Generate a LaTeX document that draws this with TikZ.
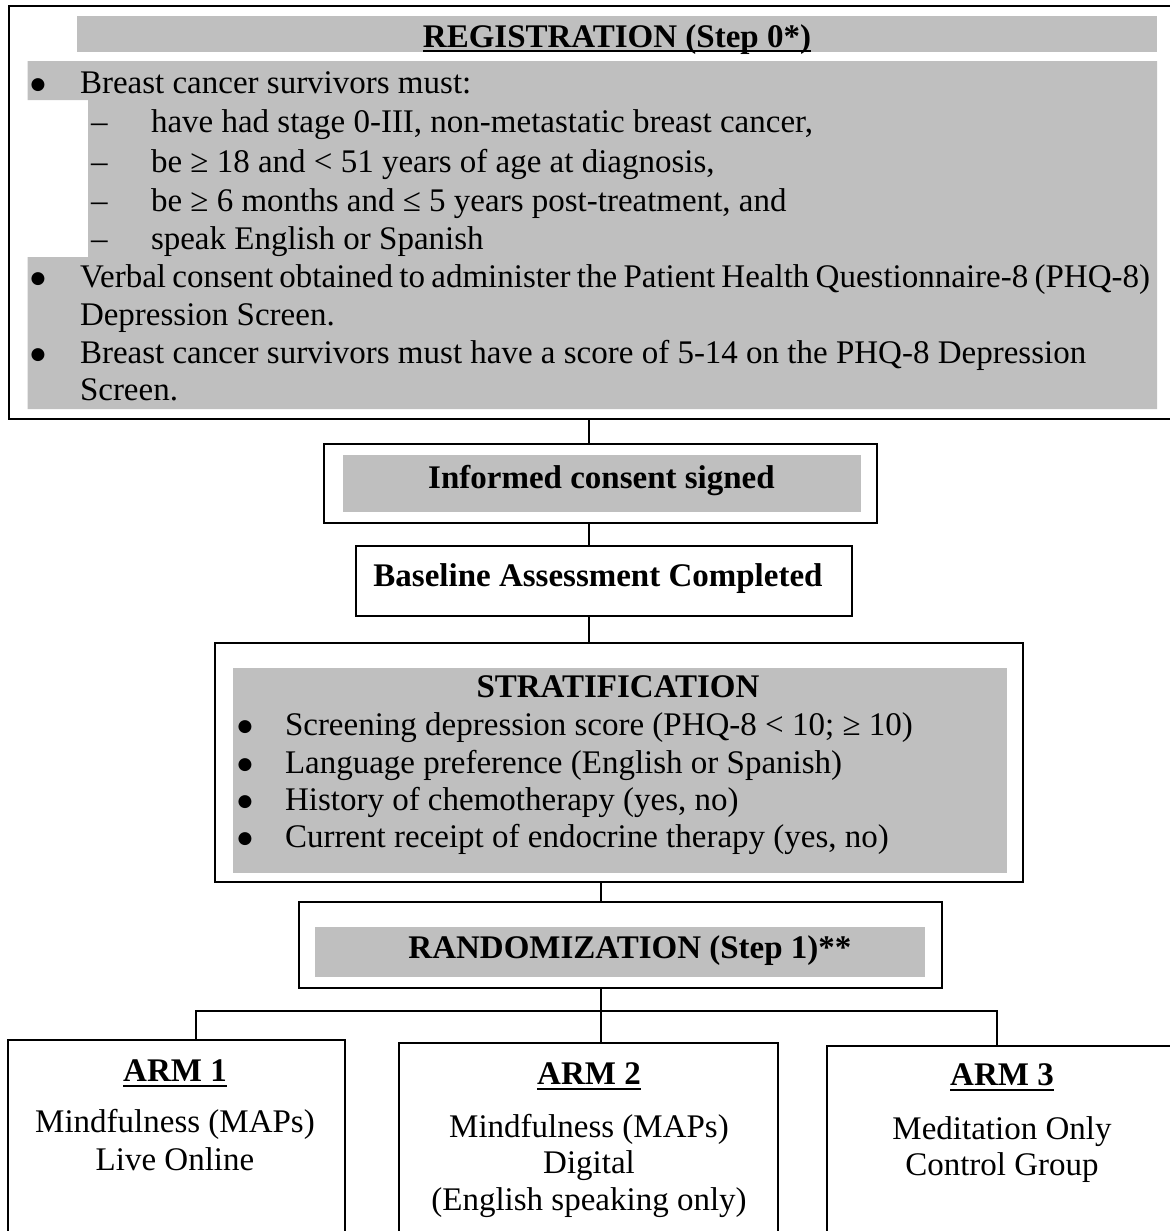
\documentclass[tikz,border=0pt]{standalone}
\usepackage{fontspec}
\setmainfont{Liberation Serif}
\newfontfamily\bulfont{DejaVu Sans}
\definecolor{boxgray}{RGB}{191,191,191}
\newcommand{\bigbul}{\raisebox{1.8pt}{\fontsize{8.5pt}{8.5pt}\selectfont\bulfont ●}}
\begin{document}
\begin{tikzpicture}[x=0.5pt,y=-0.5pt,
  box/.style={draw,line width=1pt,inner sep=0pt,outer sep=0pt},
  txt/.style={inner sep=0pt,outer sep=0pt,font=\fontsize{16.5pt}{19.25pt}\selectfont},
  ttl/.style={inner sep=0pt,outer sep=0pt,font=\fontsize{16.5pt}{19.25pt}\selectfont\bfseries},
  lft/.style={txt,anchor=base west},
  mid/.style={txt,anchor=base},
  conn/.style={line width=1pt},
  uline/.style={line width=1.2pt}]
\useasboundingbox (0,0) rectangle (1170,1231);
\clip (0,0) rectangle (1170,1231);

% gray fills
\fill[boxgray] (76.5,16) rectangle (1157,52);
\fill[boxgray] (27.5,61) -- (1157,61) -- (1157,409) -- (27.5,409) -- (27.5,257)
  -- (88,257) -- (88,100) -- (27.5,100) -- cycle;
\fill[boxgray] (343,455) rectangle (861,512);
\fill[boxgray] (233,668) rectangle (1007,873);
\fill[boxgray] (315,927) rectangle (925,977);

% boxes
\node[box,minimum width=588pt,minimum height=206.5pt] (reg) at (597,212.5) {};
\node[box,minimum width=276.5pt,minimum height=39.5pt] (consent) at (600.5,483.5) {};
\node[box,minimum width=248pt,minimum height=35pt] (base) at (604,581) {};
\node[box,minimum width=404pt,minimum height=119.5pt] (strat) at (619,762.5) {};
\node[box,minimum width=321.75pt,minimum height=43pt] (rand) at (620.25,945) {};
\node[box,minimum width=168.75pt,minimum height=110pt] (arm1) at (176.25,1150) {};
\node[box,minimum width=189.5pt,minimum height=108.5pt] (arm2) at (588.5,1151.5) {};
\node[box,minimum width=181.5pt,minimum height=107pt] (arm3) at (1008.5,1153) {};

% connector guides
\coordinate (xa) at (589,0);
\coordinate (xb) at (601,0);
\coordinate (xl) at (195.5,0);
\coordinate (xr) at (997,0);
\coordinate (hy) at (0,1011);

\draw[conn] (reg.south -| xa) -- (consent.north -| xa);
\draw[conn] (consent.south -| xa) -- (base.north -| xa);
\draw[conn] (base.south -| xa) -- (strat.north -| xa);
\draw[conn] (strat.south -| xb) -- (rand.north -| xb);
\draw[conn] (rand.south -| xb) -- (hy -| xb);
\draw[conn] (arm1.north -| xl) -- (hy -| xl) -- (hy -| xr) -- (arm3.north -| xr);
\draw[conn] (hy -| xb) -- (arm2.north -| xb);

% registration text
\node[ttl,anchor=base] (regt) at (617,47) {REGISTRATION (Step 0*)};
\draw[uline] ([yshift=-2pt]regt.base west) -- ([yshift=-2pt]regt.base east);

\node[mid] (b1) at (38,93) {\bigbul};
\node[lft] (l1) at (80,93) {Breast cancer survivors must:};
\node[lft] (d1) at (91,132) {–};
\node[lft] (s1) at (151,132) {have had stage 0-III, non-metastatic breast cancer,};
\node[lft] (d2) at (91,172) {–};
\node[lft] (s2) at (151,172) {be ≥ 18 and < 51 years of age at diagnosis,};
\node[lft] (d3) at (91,211) {–};
\node[lft] (s3) at (151,211) {be ≥ 6 months and ≤ 5 years post-treatment, and};
\node[lft] (d4) at (91,249) {–};
\node[lft] (s4) at (151,249) {speak English or Spanish};
\node[mid] (b2) at (38,287) {\bigbul};
\node[lft] (l2) at (80,287) {\spaceskip=0.19em\relax Verbal consent obtained to administer the Patient Health Questionnaire-8 (PHQ-8)};
\node[lft] (l3) at (80,325) {Depression Screen.};
\node[mid] (b3) at (38,363) {\bigbul};
\node[lft] (l4) at (80,363) {Breast cancer survivors must have a score of 5-14 on the PHQ-8 Depression};
\node[lft] (l5) at (80,400) {Screen.};

% consent & baseline
\node[ttl,anchor=base] (ct) at (601.5,488) {Informed consent signed};
\node[ttl,anchor=base] (bt) at (598,586) {Baseline Assessment Completed};

% stratification
\node[ttl,anchor=base] (st) at (618,697) {STRATIFICATION};
\node[mid] (sb1) at (245,735) {\bigbul};
\node[lft] (sl1) at (285,735) {Screening depression score (PHQ-8 < 10; ≥ 10)};
\node[mid] (sb2) at (245,773) {\bigbul};
\node[lft] (sl2) at (285,773) {Language preference (English or Spanish)};
\node[mid] (sb3) at (245,810) {\bigbul};
\node[lft] (sl3) at (285,810) {History of chemotherapy (yes, no)};
\node[mid] (sb4) at (245,847) {\bigbul};
\node[lft] (sl4) at (285,847) {Current receipt of endocrine therapy (yes, no)};

% randomization
\node[ttl,anchor=base] (rt) at (630,958) {RANDOMIZATION (Step 1)**};

% arms
\node[ttl,anchor=base] (a1t) at (175,1081) {ARM 1};
\draw[uline] ([yshift=-2.5pt]a1t.base west) -- ([yshift=-2.5pt]a1t.base east);
\node[mid] (a1a) at (175,1132) {Mindfulness (MAPs)};
\node[mid] (a1b) at (175,1170) {Live Online};

\node[ttl,anchor=base] (a2t) at (589,1084) {ARM 2};
\draw[uline] ([yshift=-2.5pt]a2t.base west) -- ([yshift=-2.5pt]a2t.base east);
\node[mid] (a2a) at (589,1137) {Mindfulness (MAPs)};
\node[mid] (a2b) at (589,1173) {Digital};
\node[mid] (a2c) at (589,1210) {(English speaking only)};

\node[ttl,anchor=base] (a3t) at (1002,1085) {ARM 3};
\draw[uline] ([yshift=-2.5pt]a3t.base west) -- ([yshift=-2.5pt]a3t.base east);
\node[mid] (a3a) at (1002,1139) {Meditation Only};
\node[mid] (a3b) at (1002,1175) {Control Group};
\end{tikzpicture}
\end{document}
